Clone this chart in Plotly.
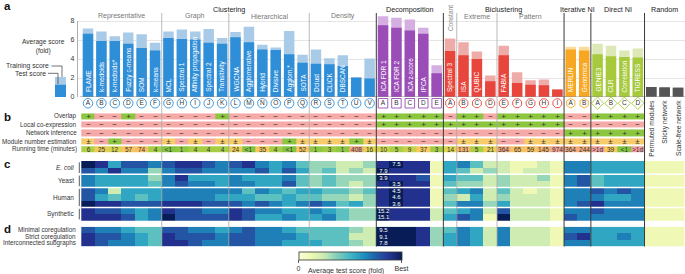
import math
import plotly.graph_objects as go

W, H = 685, 274
FONT = "Liberation Sans, Arial, Helvetica, sans-serif"

# ---------------- data ----------------
major_names = ["Clustering", "Decomposition", "Biclustering", "Iterative NI", "Direct NI", "Random"]
major_sizes = [22, 5, 9, 2, 4, 3]
sub_names = ["Representative", "Graph", "Hierarchical", "Density", "", "Constant", "Extreme", "Pattern", "", "", ""]
sub_sizes = [6, 5, 6, 5, 5, 1, 3, 5, 2, 4, 3]

method_names = ["FLAME", "k-medoids", "k-medoids*", "Fuzzy c-means", "SOM", "k-means",
                "MCL", "Spectral 1", "Affinity propagation", "Spectral 2", "Transitivity",
                "WGCNA", "Agglomerative", "Hybrid", "Divisive", "Agglom.*", "SOTA",
                "Dclust", "CLICK", "DBSCAN", "", "",
                "ICA FDR 1", "ICA FDR 2", "ICA z-score", "IPCA", "",
                "Spectral 3", "ISA", "QUBIC", "", "FABIA", "", "", "", "",
                "MERLIN", "Genomica",
                "GENIE3", "CLR", "Correlation", "TIGRESS",
                "", "", ""]
letters = (list("ABCDEFGHIJKLMNOPQRSTUV") + list("ABCDE") + list("ABCDEFGHI")
           + list("AB") + list("ABCD"))
random_names = ["Permuted modules", "Sticky network", "Scale-free network"]

training_score = [7.2, 6.9, 6.4, 6.8, 6.6, 5.7,
                  6.9, 7.1, 6.9, 7.15, 6.2,
                  6.85, 7.4, 5.5, 5.2, 6.95, 4.45,
                  5.0, 4.07, 4.4, 2.05, 4.05,
                  8.5, 8.35, 8.15, 7.3, 3.35,
                  6.15, 5.75, 4.8, 2.25, 5.4, 2.6, 1.75, 1.85, 0.78,
                  5.3, 5.3,
                  5.6, 5.4, 4.9, 5.1,
                  1.05, 1.0, 0.98]
test_score = [6.67, 5.9, 5.9, 5.6, 5.15, 4.9,
              6.2, 6.1, 6.05, 5.7, 5.6,
              6.3, 5.75, 5.0, 4.95, 4.5, 3.6,
              3.5, 3.45, 3.27, 2.05, 1.95,
              7.55, 7.3, 7.0, 6.67, 2.5,
              4.85, 4.4, 4.0, 1.65, 4.4, 1.47, 1.3, 1.23, 0.78,
              5.0, 4.9,
              4.5, 4.3, 4.2, 4.15,
              1.05, 1.0, 0.98]
legend_training, legend_test = 2.1, 1.3

# panel b: '+' yes, '-' no, '~' partly
overlap = "+--+------+" + "-----------" + "+++++" + "-++-+++++" + "--" + "++++"
local_coexpression = "-" * 22 + "+++++" + "+++++++++" + "--" + "----"
network_inference = "-" * 22 + "-----" + "---------" + "++" + "++++"
module_number = "~-+---" + "~-~-~" + "~---+~" + "~~~+~" + "-----" + "-~~~--~~~" + "~~" + "~~~~"
running_time = ["6", "25", "12", "57", "74", "4", "<1", "1", "4", "4", "4",
                "24", "<1", "35", "4", "<1", "52", "1", "3", "1", "408", "16",
                "10", "5", "9", "37", "3",
                "14", "131", "5", "21", "364", "65", "59", "145", "974",
                "364", "244",
                ">1d", "39", "<1", ">1d"]
feature_labels = ["Overlap", "Local co-expression", "Network inference",
                  "Module number estimation", "Running time (minutes)"]

# panel c/d: average test score relative to best (0 = worst ... 9 = best)
ecoli_1 = [9, 8, 5, 7, 7, 6, 7, 8, 8, 7, 6, 7, 8, 6, 5, 6, 4, 3, 3, 2, 2, 3, 8, 9, 8, 8, 1, 5, 6, 4, 2, 2, 1, 1, 2, 1, 6, 6, 5, 5, 5, 5, 1, 1, 1]
ecoli_2 = [7, 6, 8, 6, 6, 3, 6, 7, 7, 6, 6, 6, 6, 7, 5, 7, 5, 3, 4, 2, 3, 2, 9, 8, 8, 8, 1, 5, 4, 2, 3, 2, 1, 2, 2, 1, 6, 6, 5, 5, 5, 5, 1, 1, 1]
yeast_1 = [6, 5, 5, 5, 5, 3, 6, 8, 5, 5, 5, 6, 5, 5, 5, 6, 4, 3, 4, 3, 3, 3, 9, 8, 8, 7, 1, 5, 4, 4, 2, 3, 2, 2, 3, 1, 6, 7, 4, 5, 5, 5, 1, 1, 1]
yeast_2 = [6, 5, 5, 5, 5, 4, 6, 7, 6, 6, 5, 6, 6, 5, 5, 7, 4, 3, 4, 3, 2, 3, 8, 9, 8, 8, 1, 4, 3, 3, 2, 3, 2, 2, 2, 1, 6, 7, 4, 5, 5, 5, 1, 1, 1]
human_1 = [7, 6, 2, 5, 5, 5, 6, 6, 6, 6, 6, 6, 4, 6, 5, 4, 5, 5, 4, 4, 3, 4, 8, 9, 8, 8, 1, 4, 5, 6, 2, 4, 2, 1, 2, 1, 6, 6, 7, 6, 7, 6, 1, 1, 1]
human_2 = [7, 5, 4, 5, 4, 5, 6, 6, 6, 6, 5, 5, 5, 4, 4, 5, 4, 4, 3, 3, 2, 3, 8, 9, 8, 8, 1, 3, 2, 5, 2, 3, 2, 2, 2, 1, 6, 6, 6, 5, 5, 6, 1, 1, 1]
human_3 = [9, 8, 8, 7, 7, 7, 8, 8, 8, 7, 7, 7, 6, 7, 6, 5, 6, 7, 6, 4, 5, 3, 8, 9, 8, 8, 1, 4, 6, 6, 3, 5, 2, 2, 2, 1, 6, 7, 8, 6, 6, 6, 1, 1, 1]
synth_1 = [8, 7, 7, 6, 5, 6, 8, 7, 7, 6, 6, 8, 7, 6, 6, 5, 5, 6, 5, 4, 3, 3, 9, 8, 8, 8, 2, 4, 5, 6, 2, 7, 2, 2, 2, 1, 6, 6, 7, 6, 6, 6, 1, 1, 1]
synth_2 = [8, 8, 8, 7, 5, 6, 9, 7, 7, 7, 7, 8, 7, 5, 5, 6, 5, 5, 6, 4, 3, 3, 9, 8, 8, 8, 2, 5, 7, 6, 1, 9, 2, 2, 2, 1, 7, 6, 6, 6, 6, 6, 1, 1, 1]
minimal_coreg = [7, 6, 6, 5, 4, 4, 7, 7, 6, 6, 5, 6, 7, 6, 6, 5, 4, 4, 4, 4, 3, 2, 9, 9, 9, 8, 3, 4, 6, 5, 2, 6, 2, 2, 2, 1, 6, 6, 5, 5, 5, 5, 1, 1, 1]
strict_coreg = [8, 7, 7, 6, 5, 4, 8, 7, 7, 7, 6, 7, 7, 6, 6, 6, 5, 4, 4, 4, 2, 2, 9, 9, 9, 8, 3, 5, 6, 5, 2, 6, 2, 2, 2, 1, 7, 8, 5, 5, 6, 5, 1, 1, 1]
interconnected = [8, 7, 6, 6, 5, 4, 8, 8, 7, 6, 6, 7, 7, 6, 6, 5, 5, 5, 4, 4, 3, 2, 9, 9, 9, 8, 3, 5, 6, 5, 2, 6, 2, 2, 2, 1, 6, 6, 5, 5, 5, 5, 1, 1, 1]

c_rows = [ecoli_1, ecoli_2, yeast_1, yeast_2, human_1, human_2, human_3, synth_1, synth_2]
c_groups = ["<i>E. coli</i>", "Yeast", "Human", "Synthetic"]
c_group_sizes = [2, 2, 3, 2]
c_best = ["7.5", "7.9", "3.9", "3.5", "4.5", "4.6", "3.6", "15.2", "15.1"]
c_best_method = [23, 22, 22, 23, 23, 23, 23, 22, 22]
d_rows = [minimal_coreg, strict_coreg, interconnected]
d_labels = ["Minimal coregulation", "Strict coregulation", "Interconnected subgraphs"]
d_best = ["9.5", "9.1", "7.8"]
d_best_method = [22, 22, 22]

# ---------------- styles ----------------
dark_colors = ["#2F8ED8", "#9A4DB6", "#E8453C", "#F7A722", "#A6CA3C", "#555555"]
light_colors = ["#A9CBE8", "#D5AFE2", "#EFABA8", "#FBDCA0", "#DCE8B6", "#555555"]
symbols = ["circle", "square", "octagon", "hexagon", "diamond"]
YLGNBU = [[0, "#ffffd9"], [0.125, "#edf8b1"], [0.25, "#c7e9b4"], [0.375, "#7fcdbb"],
          [0.5, "#41b6c4"], [0.625, "#1d91c0"], [0.75, "#225ea8"], [0.875, "#253494"],
          [1, "#081d58"]]

COL0, COLW, XDOM0 = 88.0, 13.41, 77.5


def py(p):
    return (H - p) / H


ncol = len(training_score)
cols = list(range(ncol))
nfeat = len(overlap)
major_of = []
for g, n in enumerate(major_sizes):
    major_of += [g] * n
light = [light_colors[major_of[i]] for i in cols]
dark = [dark_colors[major_of[i]] for i in cols]

fig = go.Figure()

# ---- panel a bars ----
fig.add_trace(go.Bar(x=cols, y=training_score, width=0.78, marker=dict(color=light, line=dict(width=0)),
                     hoverinfo="skip", xaxis="x", yaxis="y"))
fig.add_trace(go.Bar(x=cols, y=test_score, width=0.78, marker=dict(color=dark, line=dict(width=0)),
                     hoverinfo="skip", xaxis="x", yaxis="y"))
fig.add_trace(go.Bar(x=[0], y=[legend_training], width=[1], marker=dict(color=light_colors[0], line=dict(width=0)),
                     hoverinfo="skip", xaxis="x2", yaxis="y6"))
fig.add_trace(go.Bar(x=[0], y=[legend_test], width=[1], marker=dict(color=dark_colors[0], line=dict(width=0)),
                     hoverinfo="skip", xaxis="x2", yaxis="y6"))

# ---- letter markers ----
for g in range(5):
    idx = [i for i in range(nfeat) if major_of[i] == g]
    fig.add_trace(go.Scatter(
        x=idx, y=[0.5] * len(idx), mode="markers+text", text=[letters[i] for i in idx],
        textposition="middle center", textfont=dict(size=6.5, color="#333"),
        marker=dict(symbol=symbols[g], size=9.5, color="white", line=dict(color=dark_colors[g], width=0.9)),
        cliponaxis=False, hoverinfo="skip", xaxis="x", yaxis="y2"))

# ---- panel b ----
sym = {"+": "+", "-": "\u2212", "~": "\u00b1"}
code = {"-": 0, "~": 1, "+": 2}
feat_rows = [overlap, local_coexpression, network_inference, module_number]
fig.add_trace(go.Heatmap(
    x=list(range(nfeat)), y=[0, 1, 2, 3],
    z=[[code[c] for c in r] for r in feat_rows],
    text=[[sym[c] for c in r] for r in feat_rows], texttemplate="%{text}",
    textfont=dict(size=8, color="#333"),
    colorscale=[[0, "#F6AAA8"], [0.5, "#F8CB6B"], [1, "#8CC63F"]], zmin=0, zmax=2,
    showscale=False, ygap=2, hoverinfo="skip", xaxis="x", yaxis="y3"))


def minutes(t):
    if t.startswith("<"):
        return 0.5
    if t.startswith(">"):
        return 2000.0
    return float(t)


rt_z = [math.log10(minutes(t)) for t in running_time]
rt_text = [t.replace("<", "&lt;").replace(">", "&gt;") for t in running_time]
fig.add_trace(go.Heatmap(
    x=list(range(nfeat)), y=[4], z=[rt_z], text=[rt_text], texttemplate="%{text}",
    textfont=dict(size=6.5, color="#333"),
    colorscale=[[0, "#82C341"], [0.28, "#A9CF45"], [0.40, "#DCD54F"], [0.53, "#F8C95E"],
                [0.69, "#F7B46E"], [0.86, "#F4A58C"], [1, "#F2A0A0"]],
    zmin=-0.3, zmax=3.3, showscale=False, ygap=2, hoverinfo="skip", xaxis="x", yaxis="y3"))

# ---- panels c, d ----
c_text = [["" for _ in cols] for _ in c_rows]
for r, (lab, m) in enumerate(zip(c_best, c_best_method)):
    c_text[r][m] = lab
d_text = [["" for _ in cols] for _ in d_rows]
for r, (lab, m) in enumerate(zip(d_best, d_best_method)):
    d_text[r][m] = lab
fig.add_trace(go.Heatmap(x=cols, y=list(range(len(c_rows))), z=c_rows, text=c_text, texttemplate="%{text}",
                         textfont=dict(size=6, color="white"), coloraxis="coloraxis",
                         hoverinfo="skip", xaxis="x", yaxis="y4"))
fig.add_trace(go.Heatmap(x=cols, y=list(range(len(d_rows))), z=d_rows, text=d_text, texttemplate="%{text}",
                         textfont=dict(size=6, color="white"), coloraxis="coloraxis",
                         hoverinfo="skip", xaxis="x", yaxis="y5"))

# ---------------- shapes ----------------
shapes = []
shapes.append(dict(type="line", xref="x", yref="y", x0=-0.6, x1=ncol, y0=0, y1=0,
                   line=dict(color="#8a8a8a", width=0.9)))
shapes.append(dict(type="line", xref="paper", yref="y", x0=XDOM0 / W, x1=XDOM0 / W, y0=0, y1=8,
                   line=dict(color="#9a9a9a", width=0.8)))
acc = 0
for n in c_group_sizes[:-1]:
    acc += n
    shapes.append(dict(type="line", xref="x", yref="y4", x0=-0.5, x1=ncol - 0.5, y0=acc - 0.5, y1=acc - 0.5,
                       line=dict(color="white", width=1.4)))
major_bounds = []
acc = 0
for n in major_sizes[:-1]:
    acc += n
    major_bounds.append(acc - 0.5)
acc = 0
for n in sub_sizes[:-1]:
    acc += n
    b = acc - 0.5
    is_major = b in major_bounds
    shapes.append(dict(type="line", xref="x", yref="paper", x0=b, x1=b,
                       y0=py(246.5), y1=py(13),
                       line=dict(color="#3a3a3a" if is_major else "#a8a8a8", width=1.0 if is_major else 0.8)))
acc = 0
for n in c_group_sizes:
    shapes.append(dict(type="line", xref="paper", yref="y4", x0=79.3 / W, x1=79.3 / W,
                       y0=acc - 0.3, y1=acc + n - 0.7, line=dict(color="#333", width=0.8)))
    acc += n
shapes.append(dict(type="path", xref="paper", yref="paper",
                   path=f"M {51.5 / W} {py(66)} L {62 / W} {py(66)} L {62 / W} {py(77)}",
                   line=dict(color="#333", width=0.7)))
shapes.append(dict(type="path", xref="paper", yref="paper",
                   path=f"M {48 / W} {py(73.3)} L {58 / W} {py(73.3)} L {58 / W} {py(84)}",
                   line=dict(color="#333", width=0.7)))

# ---------------- annotations ----------------
ann = []


def A(**kw):
    base = dict(showarrow=False, xanchor="center", font=dict(family=FONT, size=7, color="#333"))
    base.update(kw)
    ann.append(base)


for lab, yp in [("a", 6), ("b", 117), ("c", 164), ("d", 229)]:
    A(text=f"<b>{lab}</b>", xref="paper", yref="paper", x=2 / W, y=py(yp), xanchor="left", yanchor="middle",
      font=dict(family=FONT, size=11.5, color="#111"))

acc = 0
for name, n in zip(major_names, major_sizes):
    A(text=name, xref="x", yref="paper", x=acc + (n - 1) / 2, y=py(9), yanchor="middle",
      font=dict(family=FONT, size=7.2, color="#222"))
    acc += n
acc = 0
for name, n in zip(sub_names, sub_sizes):
    if name == "Constant":
        A(text=name, xref="x", yref="paper", x=acc, y=py(3), yanchor="top", textangle=-90,
          font=dict(family=FONT, size=6.5, color="#888"))
    elif name:
        A(text=name, xref="x", yref="paper", x=acc + (n - 1) / 2, y=py(16.3), yanchor="middle",
          font=dict(family=FONT, size=7, color="#777"))
    acc += n

for i, name in enumerate(method_names):
    if name:
        A(text=name, xref="x", yref="y", x=i, y=0, yanchor="bottom", yshift=3, textangle=-90,
          font=dict(family=FONT, size=6.5, color="white"))
for k, name in enumerate(random_names):
    A(text=name, xref="x", yref="y", x=nfeat + k, y=0, yanchor="top", yshift=-1, textangle=-90,
      font=dict(family=FONT, size=6.7, color="#333"))

for r, lab in enumerate(feature_labels):
    A(text=lab, xref="paper", yref="y3", x=78.5 / W, y=r, xanchor="right", yanchor="middle",
      font=dict(family=FONT, size=6.3, color="#333"))
acc = 0
for lab, n in zip(c_groups, c_group_sizes):
    A(text=lab, xref="paper", yref="y4", x=76 / W, y=acc + (n - 1) / 2, xanchor="right", yanchor="middle",
      font=dict(family=FONT, size=6.5, color="#333"))
    acc += n
for r, lab in enumerate(d_labels):
    A(text=lab, xref="paper", yref="y5", x=78 / W, y=r, xanchor="right", yanchor="middle",
      font=dict(family=FONT, size=6.3, color="#333"))

A(text="Average score<br>(fold)", xref="paper", yref="paper", x=43 / W, y=py(46.5), xanchor="center",
  yanchor="middle", font=dict(family=FONT, size=6.6, color="#333"))
A(text="Training score", xref="paper", yref="paper", x=51 / W, y=py(66), xanchor="right", yanchor="middle",
  font=dict(family=FONT, size=6.8, color="#333"))
A(text="Test score", xref="paper", yref="paper", x=47.5 / W, y=py(73.3), xanchor="right", yanchor="middle",
  font=dict(family=FONT, size=6.8, color="#333"))
A(text="Average test score (fold)", xref="paper", yref="paper", x=346 / W, y=py(271), xanchor="center",
  yanchor="middle", font=dict(family=FONT, size=7, color="#333"))

fig.update_layout(
    width=W, height=H, margin=dict(l=0, r=0, t=0, b=0, autoexpand=False),
    paper_bgcolor="white", plot_bgcolor="rgba(0,0,0,0)",
    showlegend=False, barmode="overlay", font=dict(family=FONT, size=7, color="#333"),
    xaxis=dict(domain=[XDOM0 / W, 1], range=[(XDOM0 - COL0) / COLW, (W - COL0) / COLW],
               visible=False, anchor="y", fixedrange=True),
    xaxis2=dict(domain=[0, XDOM0 / W], range=[-5.5, (XDOM0 - 60.5) / 11], visible=False, anchor="y6"),
    yaxis=dict(domain=[py(97), py(2)], range=[0, 10], anchor="x", tickvals=[0, 2, 4, 6, 8],
               showgrid=True, gridcolor="#dedede", gridwidth=0.8, zeroline=False, showline=False,
               ticks="", tickfont=dict(size=7, color="#333"), ticklabelstandoff=2),
    yaxis2=dict(domain=[py(108), py(98.5)], range=[0, 1], anchor="x", visible=False),
    yaxis3=dict(domain=[py(153.4), py(112.4)], range=[4.5, -0.5], anchor="x", visible=False),
    yaxis4=dict(domain=[py(220.7), py(161)], range=[len(c_rows) - 0.5, -0.5], anchor="x", visible=False),
    yaxis5=dict(domain=[py(246.3), py(226.7)], range=[len(d_rows) - 0.5, -0.5], anchor="x", visible=False),
    yaxis6=dict(domain=[py(97), py(2)], range=[0, 10], anchor="x2", visible=False),
    coloraxis=dict(colorscale=YLGNBU, cmin=0, cmax=9, colorbar=dict(
        orientation="h", x=350 / W, xanchor="center", y=py(251.7), yanchor="top",
        len=103.4, lenmode="pixels", thickness=8, thicknessmode="pixels", xpad=0, ypad=0,
        outlinewidth=0.8, outlinecolor="#333", tickvals=[0, 9], ticktext=["0", "Best"],
        ticks="outside", ticklen=3, tickwidth=0.8, tickcolor="#333",
        tickfont=dict(size=7, color="#333"))),
    shapes=shapes, annotations=ann,
)

fig.write_html("out.html", config={"displayModeBar": False, "staticPlot": True},
               post_script="document.body.style.margin='0px';document.body.style.padding='0px';")
